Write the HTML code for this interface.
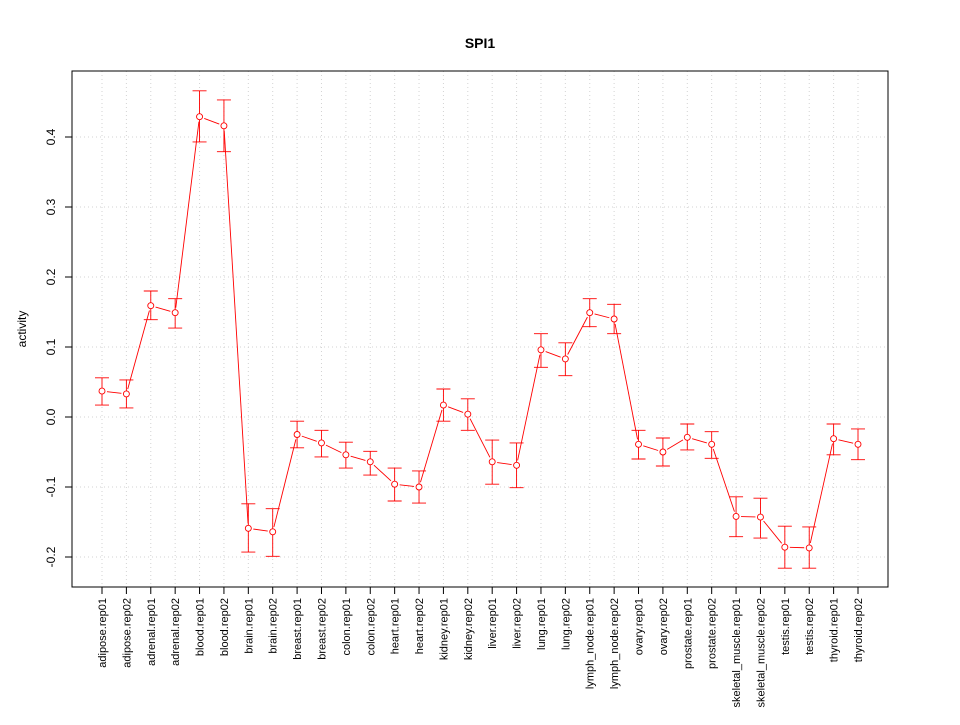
<!DOCTYPE html>
<html><head><meta charset="utf-8"><style>
body{margin:0;background:#fff}
svg text{font-family:"Liberation Sans",sans-serif}
</style></head><body>
<svg id="chart" width="960" height="720" xmlns="http://www.w3.org/2000/svg">
<rect width="960" height="720" fill="#fff"/>
<text x="480" y="48" text-anchor="middle" font-size="14" font-weight="bold">SPI1</text>
<text transform="translate(26,329) rotate(-90)" text-anchor="middle" font-size="12">activity</text>
<g id="grid"></g>
<g id="axes"></g>
<g id="marks"></g>
<rect x="72" y="71" width="816" height="516" fill="none" stroke="#000"/>
</svg>
<script>
const categories=["adipose.rep01","adipose.rep02","adrenal.rep01","adrenal.rep02","blood.rep01","blood.rep02","brain.rep01","brain.rep02","breast.rep01","breast.rep02","colon.rep01","colon.rep02","heart.rep01","heart.rep02","kidney.rep01","kidney.rep02","liver.rep01","liver.rep02","lung.rep01","lung.rep02","lymph_node.rep01","lymph_node.rep02","ovary.rep01","ovary.rep02","prostate.rep01","prostate.rep02","skeletal_muscle.rep01","skeletal_muscle.rep02","testis.rep01","testis.rep02","thyroid.rep01","thyroid.rep02"];
const values=[0.037,0.033,0.159,0.149,0.429,0.416,-0.159,-0.164,-0.025,-0.037,-0.054,-0.064,-0.096,-0.1,0.017,0.004,-0.064,-0.069,0.096,0.083,0.149,0.14,-0.039,-0.05,-0.029,-0.039,-0.142,-0.143,-0.186,-0.187,-0.031,-0.039];
const upper=[0.056,0.053,0.180,0.169,0.466,0.453,-0.124,-0.131,-0.006,-0.019,-0.036,-0.049,-0.073,-0.077,0.040,0.026,-0.033,-0.037,0.119,0.106,0.169,0.161,-0.019,-0.030,-0.010,-0.021,-0.114,-0.116,-0.156,-0.157,-0.010,-0.017];
const lower=[0.017,0.013,0.139,0.127,0.393,0.379,-0.193,-0.199,-0.044,-0.057,-0.073,-0.083,-0.120,-0.123,-0.006,-0.019,-0.096,-0.101,0.071,0.059,0.129,0.119,-0.060,-0.070,-0.047,-0.059,-0.171,-0.173,-0.216,-0.216,-0.054,-0.061];
const yTicks=[-0.2,-0.1,0.0,0.1,0.2,0.3,0.4];
const yTickLabels=["-0.2","-0.1","0.0","0.1","0.2","0.3","0.4"];
const NS="http://www.w3.org/2000/svg";
const xs=i=>102+i*(756/31);
const ys=v=>417-700*v;
function mk(tag,attrs,parent){const e=document.createElementNS(NS,tag);for(const k in attrs)e.setAttribute(k,attrs[k]);parent.appendChild(e);return e;}
const grid=document.getElementById('grid'),axes=document.getElementById('axes'),marks=document.getElementById('marks');
categories.forEach((c,i)=>{
  const g=mk('line',{x1:xs(i),x2:xs(i),y1:71,y2:587,stroke:'#d3d3d3','stroke-dasharray':'1,3'},grid);
  
  
  const t=mk('line',{x1:xs(i),x2:xs(i),y1:587,y2:594,stroke:'#000'},axes);
  
  
  const l=mk('text',{transform:`translate(${xs(i)+4},${598}) rotate(-90)`,'text-anchor':'end','font-size':'11'},axes);
  l.textContent=c;
  
  
});
mk('line',{x1:xs(0),x2:xs(31),y1:587,y2:587,stroke:'#000'},axes);
yTicks.forEach((v,i)=>{
  const g=mk('line',{x1:72,x2:888,y1:ys(v),y2:ys(v),stroke:'#d3d3d3','stroke-dasharray':'1,3'},grid);
  
  
  const t=mk('line',{x1:65,x2:72,y1:ys(v),y2:ys(v),stroke:'#000'},axes);
  
  
  const l=mk('text',{transform:`translate(55,${ys(v)}) rotate(-90)`,'text-anchor':'middle','font-size':'12'},axes);
  l.textContent=yTickLabels[i];
  
  
});
const R=3;
for(let i=0;i<values.length-1;i++){
  const x1=xs(i),y1=ys(values[i]),x2=xs(i+1),y2=ys(values[i+1]);
  const dx=x2-x1,dy=y2-y1,d=Math.hypot(dx,dy),g=R+2;
  if(d>2*g){
    const s=mk('line',{x1:x1+dx*g/d,y1:y1+dy*g/d,x2:x2-dx*g/d,y2:y2-dy*g/d,stroke:'#f00','stroke-width':0.9},marks);
    
    
  }
}
values.forEach((v,i)=>{
  const x=xs(i);
  const e=mk('path',{d:`M${x},${ys(upper[i])}V${ys(lower[i])}M${x-7},${ys(upper[i])}H${x+7}M${x-7},${ys(lower[i])}H${x+7}`,stroke:'#f00',fill:'none','stroke-width':0.9},marks);
  
  
  const c=mk('circle',{cx:x,cy:ys(v),r:R,fill:'#fff',stroke:'#f00','stroke-width':0.9},marks);
  
  
});
</script>
</body></html>
